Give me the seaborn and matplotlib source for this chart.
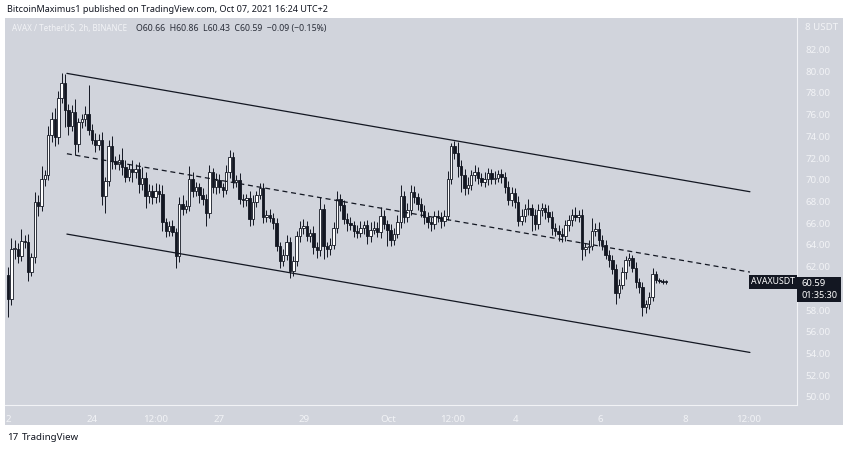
import numpy as np
import pandas as pd
import matplotlib
matplotlib.use("Agg")
import matplotlib.pyplot as plt
import seaborn as sns

# 2h closes, AVAX/USDT, Sep 22 -> Oct 7 2021
closes = [
    59.0, 63.6, 63.6, 63.0, 64.4, 64.3, 61.5, 62.9, 68.0, 67.6, 70.1, 70.4, 74.1, 75.6, 73.9,
    77.5, 78.9, 76.4, 75.0, 76.2, 73.3, 75.3, 75.6, 76.1, 74.6, 73.7, 73.2, 73.7, 68.5, 69.9,
    73.1, 71.7, 71.5, 71.8, 71.2, 70.3, 71.0, 70.7, 71.0, 69.6, 70.2, 68.5, 69.0,
    68.4, 69.0, 68.7, 66.1, 65.3, 65.7, 65.2, 63.0, 67.8, 67.3, 67.6, 70.1, 69.0, 69.3, 68.6,
    68.2, 66.9, 70.7, 69.3, 70.0, 69.3, 69.1, 70.7, 72.1, 69.8, 70.0, 68.2, 68.1, 68.3, 66.4,
    68.0, 68.6, 69.2, 66.6, 66.8, 66.5, 66.0, 63.9, 62.5, 63.1, 64.3, 61.6, 62.5, 64.8, 65.6,
    65.7, 64.8, 65.1, 63.8, 63.5, 67.3,
    63.9, 63.6, 64.0, 65.6, 68.2, 67.7, 66.4, 66.0, 65.8, 65.3, 65.1, 65.6, 65.8, 64.8, 65.4,
    65.6, 65.2, 66.7, 65.9, 65.4, 64.5, 65.0, 66.1, 68.5, 66.6, 67.2, 68.9, 68.4, 67.8, 67.1,
    66.6, 66.1, 65.9, 66.7, 66.6, 66.2, 66.7, 70.1, 73.1, 72.5, 71.3, 70.4, 69.2, 69.5, 70.4,
    70.7, 70.2, 69.8, 70.1, 70.6, 70.1,
    70.2, 70.5, 70.3, 69.3, 68.1, 68.8, 68.0, 66.2, 66.7, 67.3, 67.4, 66.8, 65.9, 67.2, 67.4,
    67.0, 66.6, 65.6, 65.3, 65.0, 64.8, 65.8, 66.3, 66.8, 66.6, 66.8, 63.6, 63.8, 63.9, 65.3,
    65.5, 64.5, 64.0, 63.1, 62.6, 61.8, 59.6, 60.3, 61.5, 62.6, 62.8, 61.9, 60.6, 60.1, 58.3,
    58.6, 59.2, 61.3, 60.8, 60.7, 60.6, 60.59,
]
first_open = 61.2
wick_up = [
    0.8, 1.0, 0.9, 0.6, 1.1, 0.5, 0.7, 0.4, 0.9, 0.6, 1.2, 0.5, 0.9, 0.6, 1.0,
    0.7, 0.9, 0.8, 0.6, 0.7, 1.2, 0.4, 0.5, 0.7, 2.6, 0.5, 0.6, 0.5, 0.7, 0.4,
    0.6, 0.9, 0.5, 0.6, 1.1, 0.6, 0.5, 0.8, 0.5, 0.6, 1.0, 0.5, 0.6,
    0.5, 0.7, 0.6, 0.8, 0.4, 0.5, 0.6, 0.4, 0.6, 0.8, 0.5, 1.2, 0.6, 0.5, 0.4,
    0.6, 0.5, 0.7, 0.4, 0.6, 0.5, 0.4, 0.7, 0.6, 0.5, 0.4, 0.6, 0.5, 0.4, 0.7,
    0.6, 0.4, 0.5, 0.5, 0.4, 0.5, 0.4, 0.5, 0.4, 0.5, 0.6, 0.4, 0.5, 0.5, 0.6,
    0.7, 0.5, 0.4, 0.6, 0.5, 1.1,
    0.5, 0.4, 0.6, 0.5, 0.8, 0.5, 0.4, 0.5, 0.6, 0.4, 0.5, 0.6, 0.4, 0.5, 0.7,
    0.6, 0.5, 0.8, 0.5, 0.4, 0.5, 0.6, 0.7, 1.0, 0.5, 0.7, 0.6, 0.5, 0.4, 0.5,
    0.6, 0.4, 0.5, 0.4, 0.5, 0.4, 0.5, 0.7, 0.3, 0.5, 1.0, 0.5, 0.6, 0.8, 0.5,
    0.7, 0.5, 0.4, 0.6, 0.5, 0.4,
    0.6, 0.4, 0.5, 0.4, 0.6, 0.5, 0.4, 0.5, 0.6, 0.5, 0.8, 0.4, 0.5, 0.6, 0.5,
    0.4, 0.7, 0.5, 0.4, 0.5, 0.6, 0.5, 0.5, 0.5, 0.7, 0.4, 0.5, 0.4, 0.6, 1.2,
    0.5, 0.6, 0.4, 0.5, 0.4, 0.5, 0.4, 0.6, 0.5, 0.4, 0.5, 0.3, 0.5, 0.4, 0.5,
    0.3, 0.5, 0.6, 0.3, 0.2, 0.2, 0.2,
]
wick_dn = [
    1.6, 0.5, 0.9, 0.7, 0.5, 0.6, 0.8, 0.4, 0.6, 0.9, 0.5, 0.7, 0.4, 0.6, 0.8,
    0.6, 0.4, 1.5, 0.9, 0.5, 1.0, 0.7, 0.5, 0.6, 0.5, 0.4, 0.6, 0.5, 0.8, 1.6,
    0.5, 0.7, 0.5, 0.6, 0.8, 0.5, 0.4, 0.9, 0.5, 0.8, 0.5, 1.1, 0.6,
    0.6, 0.5, 0.7, 0.8, 0.6, 0.5, 0.4, 1.1, 0.6, 0.5, 0.4, 0.5, 0.6, 0.5, 0.7,
    0.5, 1.2, 0.4, 0.5, 0.6, 0.5, 0.7, 0.4, 0.5, 0.6, 0.5, 0.4, 0.6, 0.5, 0.7,
    0.6, 0.5, 0.4, 0.6, 0.5, 0.4, 0.5, 0.5, 0.6, 0.4, 0.5, 0.6, 0.5, 0.4, 0.5,
    0.6, 0.4, 0.5, 0.6, 0.7, 0.5,
    1.2, 0.7, 0.5, 0.4, 0.5, 0.6, 0.5, 0.7, 0.4, 0.6, 0.5, 0.4, 0.6, 0.7, 0.5,
    0.4, 0.5, 0.6, 0.4, 1.5, 0.6, 0.5, 0.4, 0.5, 0.6, 0.5, 0.4, 0.5, 0.6, 0.5,
    0.7, 0.5, 0.6, 0.4, 0.5, 0.6, 0.5, 0.4, 0.5, 0.6, 1.0, 1.5, 0.6, 0.5, 0.4,
    0.5, 0.6, 0.4, 0.5, 0.6, 0.5,
    0.5, 0.4, 0.6, 0.5, 0.4, 0.5, 0.6, 0.5, 0.4, 0.6, 0.5, 1.5, 0.5, 0.4, 0.5,
    0.6, 0.5, 0.7, 0.5, 0.6, 0.5, 0.4, 0.5, 0.6, 0.4, 0.5, 1.0, 0.6, 0.5, 0.4,
    0.5, 0.6, 0.5, 0.4, 0.6, 0.5, 1.0, 0.5, 0.4, 0.6, 0.5, 0.4, 0.6, 0.5, 0.8,
    0.6, 0.5, 0.4, 0.3, 0.2, 0.2, 0.2,
]

# descending channel (days since Sep 24 00:00, price)
channel_x = [-0.59, 15.52]
upper_y = [79.8, 68.9]
middle_y = [72.4, 61.5]
lower_y = [65.0, 54.1]

tick_pos = [-1.98, 0, 1.5, 3, 5, 7, 8.5, 10, 12, 14, 15.5]
tick_labels = ["2", "24", "12:00", "27", "29", "Oct", "12:00", "4", "6", "8", "12:00"]
# 60.00 sits under the last-price tag, so it is not shown
price_ticks = [50, 52, 54, 56, 58, 62, 64, 66, 68, 70, 72, 74, 76, 78, 80, 82]

BG = "#d1d4dc"
LIGHT = "#f2f3f6"
INK = "#131722"

sns.set_style("white")
plt.rcParams['font.family'] = ['Noto Sans', 'DejaVu Sans']

W, H = 850, 449
fig = plt.figure(figsize=(W / 100, H / 100), dpi=100)
fig.patch.set_facecolor("white")
# gray chart block incl. both axis strips
fig.patches.append(plt.Rectangle((5 / W, 1 - 425 / H), 838 / W, 407 / H,
                                 transform=fig.transFigure, facecolor=BG,
                                 edgecolor="none", zorder=-5))
# dark box behind last price + countdown
fig.patches.append(plt.Rectangle((797 / W, 1 - 302 / H), 44 / W, 25 / H,
                                 transform=fig.transFigure, facecolor=INK,
                                 edgecolor="none", zorder=5))
ax = fig.add_axes([5 / W, 1 - 405 / H, 792 / W, 387 / H])
ax.set_facecolor(BG)

n = len(closes)
opens = [first_open] + closes[:-1]
x = np.linspace(-1.98, 13.54, n)
df = pd.DataFrame({"x": x, "open": opens, "close": closes})
df["high"] = df[["open", "close"]].max(axis=1) + np.array(wick_up)
df["low"] = df[["open", "close"]].min(axis=1) - np.array(wick_dn)
df["up"] = df["close"] >= df["open"]

ax.vlines(df["x"], df["low"], df["high"], color=INK, linewidth=0.7, zorder=2)
bottom = df[["open", "close"]].min(axis=1)
height = (df["close"] - df["open"]).abs().clip(lower=0.08)
colors = np.where(df["up"], "white", INK)
ax.bar(df["x"], height, bottom=bottom, width=0.058, color=colors,
       edgecolor=INK, linewidth=0.6, zorder=3)

ch = pd.DataFrame({"x": channel_x * 3, "y": upper_y + middle_y + lower_y,
                   "line": ["u"] * 2 + ["m"] * 2 + ["l"] * 2})
sns.lineplot(data=ch, x="x", y="y", units="line", estimator=None, ax=ax,
             color=INK, linewidth=0.9, style="line",
             dashes={"u": "", "m": (4, 3), "l": ""}, legend=False, zorder=4)

ax.set_xlim(-2.05, 16.63)
ax.set_ylim(49.26, 84.9)
ax.set_xlabel("")
ax.set_ylabel("")
ax.yaxis.tick_right()
ax.set_yticks(price_ticks)
ax.set_yticklabels([f"{p:.2f}" for p in price_ticks])
ax.set_xticks(tick_pos)
ax.set_xticklabels(tick_labels)
ax.tick_params(axis="both", length=0, labelsize=7, colors=LIGHT, pad=6)
ax.tick_params(axis="x", pad=7)
for s in ["top", "left"]:
    ax.spines[s].set_visible(False)
for s in ["right", "bottom"]:
    ax.spines[s].set_color(LIGHT)
    ax.spines[s].set_linewidth(0.8)
ax.text(1.01, 84.0, "8 USDT", transform=ax.get_yaxis_transform(), fontsize=7,
        color=LIGHT, va="center", ha="left")

# last-price tag
ax.text(0.942, 60.59, "AVAXUSDT", transform=ax.get_yaxis_transform(),
        fontsize=6.3, color="white", va="center", ha="left",
        bbox=dict(boxstyle="square,pad=0.25", fc=INK, ec="none"))
fig.text(801 / W, 1 - 283 / H, "60.59", fontsize=6.8, color="white",
         va="center", ha="left", zorder=6)
fig.text(801 / W, 1 - 296 / H, "01:35:30", fontsize=6.5, color="white",
         va="center", ha="left", zorder=6)

# header / legend
fig.text(7 / W, 1 - 9 / H, "BitcoinMaximus1 published on TradingView.com, Oct 07, 2021 16:24 UTC+2",
         fontsize=6.5, color=INK, va="center")
fig.text(12 / W, 1 - 29 / H, "AVAX / TetherUS, 2h, BINANCE", fontsize=5.8,
         color=LIGHT, va="center")
fig.text(136 / W, 1 - 29 / H, "O60.66  H60.86  L60.43  C60.59  \u22120.09 (\u22120.15%)",
         fontsize=6.3, color="#2a2e39", va="center")
fig.text(7 / W, 1 - 437 / H, "17", fontsize=7, fontweight="bold", color=INK, va="center")
fig.text(22 / W, 1 - 437 / H, "TradingView", fontsize=7, color=INK, va="center")

fig.savefig("out.png", dpi=100, facecolor=fig.get_facecolor())
